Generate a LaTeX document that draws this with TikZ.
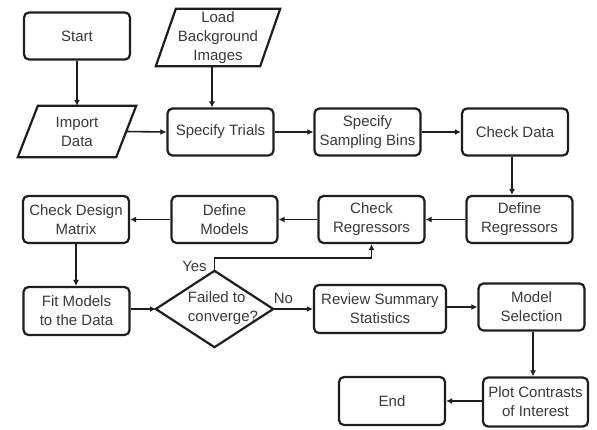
\documentclass[tikz,border=0pt]{standalone}
\usepackage{fontspec}
\setmainfont{Liberation Sans}
\usetikzlibrary{arrows.meta,calc}
\definecolor{txt}{HTML}{383838}
\definecolor{ln}{HTML}{1E1E1E}
\begin{document}
\begin{tikzpicture}[x=1pt,y=-1pt,
  font=\fontsize{15}{19}\selectfont,
  box/.style={draw=ln,line width=2.2pt,rounded corners=5pt,minimum width=106pt,minimum height=47pt,inner sep=0pt,align=center,text=txt},
  ghost/.style={minimum width=#1,inner sep=0pt,align=center,text=txt},
  arr/.style={draw=ln,line width=1.6pt,-{Latex[length=6pt,width=6pt]}},
  edge/.style={draw=ln,line width=2.2pt,line join=miter}]
\useasboundingbox (0,0) rectangle (597,429);
% row 1
\node[box] (start) at (77,36) {Start};
\node[ghost=104pt,minimum height=57pt] (load) at (218,37.5) {Load\\Background\\Images};
\draw[edge] ($(load.north west)+(10,0)$) -- ($(load.north east)+(10,0)$) -- ($(load.south east)+(-10,0)$) -- ($(load.south west)+(-10,0)$) -- cycle;
\node[ghost=98pt,minimum height=51pt] (imp) at (77,131.5) {Import\\Data};
\draw[edge] ($(imp.north west)+(10,0)$) -- ($(imp.north east)+(10,0)$) -- ($(imp.south east)+(-10,0)$) -- ($(imp.south west)+(-10,0)$) -- cycle;
\node[box] (trials) at (220.5,132) {Specify Trials};
\node[box] (bins) at (367.5,132) {Specify\\Sampling Bins};
\node[box] (cdata) at (515,132) {Check Data};
% row 2
\node[box] (design) at (76,219.5) {Check Design\\Matrix};
\node[box] (models) at (224.5,219.5) {Define\\Models};
\node[box] (chkreg) at (371.5,219.5) {Check\\Regressors};
\node[box] (defreg) at (519.5,219.5) {Define\\Regressors};
% row 3
\node[box,minimum height=48pt] (fit) at (76.5,311) {Fit Models\\to the Data};
\node[minimum width=117pt,minimum height=76pt,inner sep=0pt] (dec) at (214.5,309) {};
\draw[edge] (dec.north) -- (dec.east) -- (dec.south) -- (dec.west) -- cycle;
\node[align=left,inner sep=0pt,text=txt] (dectext) at (223,308) {Failed to\\converge?};
\node[box,minimum width=132pt,minimum height=48pt] (review) at (380,309) {Review Summary\\Statistics};
\node[box] (msel) at (531.5,307) {Model\\Selection};
% row 4
\node[box,minimum height=48pt] (endn) at (392,401) {End};
\node[box,minimum width=105pt,minimum height=49pt] (plot) at (535.5,402) {Plot Contrasts\\of Interest};
% labels
\node[text=txt,inner sep=0pt] (yes) at (194.5,266) {Yes};
\node[text=txt,inner sep=0pt] (no) at (283.5,298) {No};
% connectors
\draw[arr] (start.south) -- (start.south |- imp.north);
\draw[arr] ([xshift=-6pt]load.south) -- ([xshift=-6pt]load.south |- trials.north);
\draw[arr] (imp.east) -- (trials.west);
\draw[arr] (trials.east) -- (bins.west);
\draw[arr] (bins.east) -- (cdata.west);
\draw[arr] ([xshift=-3pt]cdata.south) -- ([xshift=-3pt]cdata.south |- defreg.north);
\draw[arr] (defreg.west) -- (chkreg.east);
\draw[arr] (chkreg.west) -- (models.east);
\draw[arr] (models.west) -- (design.west -| design.east);
\draw[arr] (design.south) -- (design.south |- fit.north);
\draw[arr] (fit.east |- dec.west) -- (dec.west);
\draw[arr] (dec.east) -- (review.west);
\draw[arr] (review.east |- msel.west) -- (msel.west);
\draw[arr] ([xshift=1.5pt]msel.south) -- ([xshift=1.5pt]msel.south |- plot.north);
\draw[arr] (plot.west |- endn.east) -- (endn.east);
\draw[arr,line join=miter] (dec.north) -- ++(0,-13) -| (chkreg.south);
\end{tikzpicture}
\end{document}
